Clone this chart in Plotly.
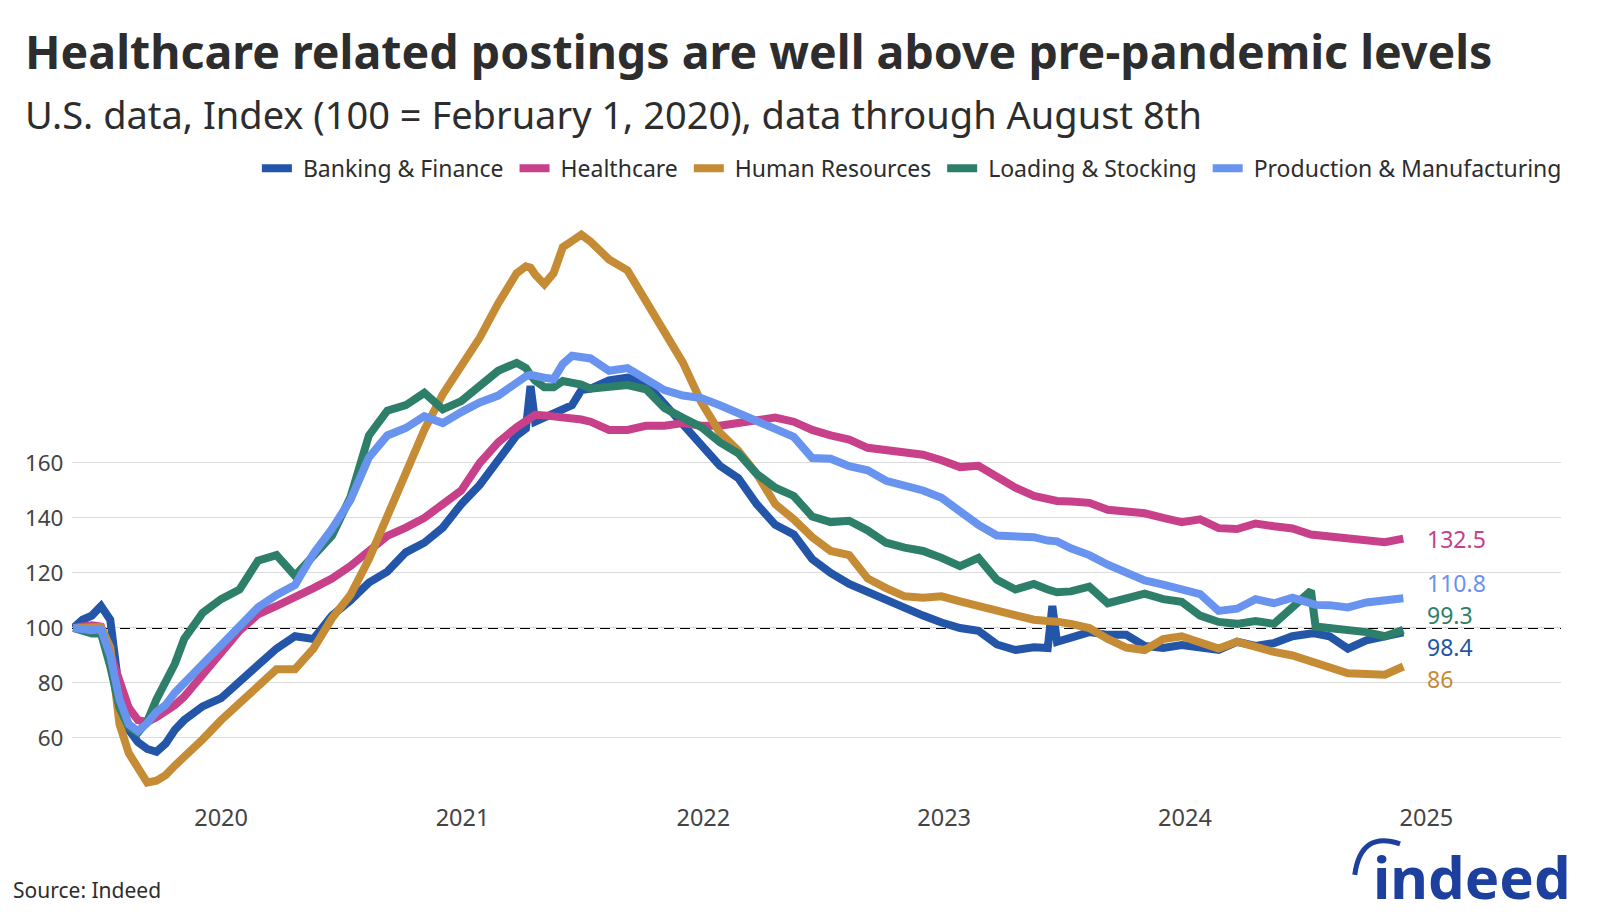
import pandas as pd
import plotly.graph_objects as go

# ---------------- data ----------------
start_date = "2019-05-22"
weeks = [0, 2, 4, 6, 8, 10, 12, 14, 16, 18, 20, 22, 24,
         28, 32, 36, 40, 44, 48, 52, 56, 60, 64, 68, 72, 76, 80, 84, 88, 92, 96, 98, 99, 100,
         102, 104, 106, 108, 110, 112, 116, 120, 124, 128, 132, 136, 140, 144, 148, 152, 156, 160, 164, 168,
         172, 176, 180, 184, 188, 192, 196, 200, 204, 208,
         211, 212, 213,
         216, 220, 224, 228, 232, 236, 240, 244, 248, 252, 256, 260, 264, 268,
         269,
         272, 276, 280, 284, 288]

banking = [100, 103, 104.5, 108, 103, 76, 63, 58.5, 56, 55, 58, 63, 66.5,
           71.5, 74.5, 80.5, 87, 92.5, 97, 96, 104.5, 110, 116.5, 120.5, 127.5, 131, 136.5, 145, 152, 160.5, 170, 172.5, 188, 175,
           176.5, 177.5, 179.5, 181, 186.5, 187, 190, 191, 189, 181.5, 174, 166.5, 159, 154.5, 145, 137.5, 134, 125, 120, 116,
           113, 110, 107, 104.5, 102, 100, 99, 94, 92, 93,
           92.7, 108, 95,
           96.5, 98.5, 97.5, 97.5, 93.5, 92.7, 93.8, 93, 92, 95, 93.5, 94.5, 97, 98,
           98,
           97, 92.5, 95.5, 97.3, 98.4]

healthcare = [100, 100.5, 101, 100.5, 90, 81, 71, 66.5, 65.8, 67.5, 69.5, 72, 75,
              83.5, 91, 99, 105, 108, 111, 114.5, 118, 122.5, 128, 133.5, 136.5, 140, 145, 150, 160, 167.5, 173, 175.5, 176.5, 177.5,
              177.3, 177, 176.5, 176, 175.8, 175, 172, 172, 173.5, 173.5, 174.5, 173.5, 173.5, 174.5, 175.5, 176.5, 175, 172, 170, 168.5,
              165.5, 164.5, 163.3, 163, 161, 158.5, 159, 155, 151, 148,
              147, 146.7, 146.2,
              146, 145.5, 143, 142.3, 141.7, 140, 138.5, 139.5, 136.3, 136, 138, 137, 136.2, 134,
              133.8,
              133.3, 133, 131.5, 131.2, 132.5]

human_resources = [100, 100.3, 100.7, 100.3, 93, 65, 54.5, 48.5, 43.8, 44.5, 46.5, 50, 53,
                   59.5, 66.5, 73, 79, 85, 85, 92.5, 103.5, 112, 125, 141, 157, 172, 185, 195, 205.5, 218, 229, 231.5, 231, 228.5,
                   225, 229, 238.5, 240.7, 243, 240.5, 234, 230, 219, 207.5, 196.5, 182, 171, 164.5, 156, 145, 139.5, 133, 128, 126.5,
                   118, 114.5, 111.5, 111, 111.5, 109.7, 108, 106, 104, 103,
                   102.5, 102.5, 102.3,
                   101.5, 100, 96, 92.9, 92, 96, 97, 95, 92.5, 95, 93, 91.3, 90, 88,
                   87.6,
                   85.7, 83.5, 83.3, 83, 86]

loading = [100, 98.7, 98, 98, 86, 71, 64, 62, 66, 74, 80, 87, 96,
           105.5, 110.5, 114, 124.5, 126.5, 119, 126.5, 133.5, 147.5, 170, 179, 181, 185.5, 179.5, 182.5, 188, 193.5, 196.4, 194.5, 192, 190,
           187.5, 187.5, 189.8, 189.3, 188.5, 187, 187.5, 188.3, 186.8, 180, 176.4, 173, 167.5, 163.5, 156, 151, 148, 140.5, 138.5, 139,
           135.5, 131, 129.2, 128, 125.5, 122.5, 125.5, 117.5, 114, 116,
           114, 113.5, 113,
           113.3, 115, 109, 110.5, 112.5, 110.5, 109.5, 104.5, 102.2, 101.5, 102.5, 101.5, 107.5, 113.5,
           100.5,
           100, 99, 98.5, 97, 99.3]

production = [100, 99.5, 99.2, 99.5, 90, 74, 65, 62.5, 65.5, 69.5, 72, 76.5, 80,
              86, 93.5, 100, 107.5, 112, 115.6, 127, 136, 146.5, 162, 170, 172.7, 177, 174.5, 178.5, 182, 184.5, 189.5, 191.5, 192, 191.5,
              191, 190.5, 196, 199, 198.8, 198, 193.5, 194.5, 190.5, 186.5, 184.5, 183.6, 181, 178, 175.5, 172.7, 169.5, 161.8, 161.5, 158.8,
              157.3, 153.5, 151.7, 150, 147.3, 142.3, 137.5, 133.6, 133.6, 133,
              131.8, 131.7, 131.5,
              129, 126.5, 123, 120, 117.3, 115.8, 114, 112.3, 106.2, 107, 110.5, 109, 111, 108.4,
              108.4,
              108.3, 107.5, 109.3, 109.8, 110.8]

series_names = ["Banking & Finance", "Healthcare", "Human Resources",
                "Loading & Stocking", "Production & Manufacturing"]
series_values = [banking, healthcare, human_resources, loading, production]

y_ticks = [60, 80, 100, 120, 140, 160]
x_tick_labels = ["2020", "2021", "2022", "2023", "2024", "2025"]

# ---------------- style ----------------
colors = {
    "Banking & Finance": "#2356a8",
    "Healthcare": "#c8408a",
    "Human Resources": "#c58b35",
    "Loading & Stocking": "#2e7f69",
    "Production & Manufacturing": "#6893ee",
}
label_yshift = {
    "Banking & Finance": -15,
    "Healthcare": 0,
    "Human Resources": -13,
    "Loading & Stocking": 15,
    "Production & Manufacturing": 15,
}
FONT = "Noto Sans"
TEXT = "#2d2d2d"
NB = "\u00a0"

start = pd.Timestamp(start_date)
dates = [start + pd.Timedelta(weeks=w) for w in weeks]

fig = go.Figure()
for name, vals in zip(series_names, series_values):
    fig.add_trace(go.Scatter(
        x=dates, y=vals, name=NB + name + NB, mode="lines",
        line=dict(color=colors[name], width=8),
        hovertemplate=name + ": %{y}<extra></extra>",
    ))

# end labels
for name, vals in zip(series_names, series_values):
    fig.add_annotation(
        x=dates[-1], y=vals[-1], xref="x", yref="y",
        text=f"{vals[-1]:g}", showarrow=False,
        xanchor="left", yanchor="middle", xshift=22, yshift=label_yshift[name],
        font=dict(family=FONT, size=23, color=colors[name]),
    )

# reference line at 100
fig.add_shape(type="line", xref="paper", x0=0, x1=1, yref="y", y0=100, y1=100,
              line=dict(color="black", width=2, dash="10px,6px"), layer="below")

tick_dates = [pd.Timestamp(f"{t}-01-01") for t in x_tick_labels]

fig.update_layout(
    width=1600, height=914, autosize=False,
    margin=dict(l=64, r=47, t=200, b=129),
    paper_bgcolor="white", plot_bgcolor="white",
    font=dict(family=FONT, color=TEXT),
    showlegend=True,
    legend=dict(
        orientation="h", xanchor="right", x=1.008, yanchor="middle", y=1.068,
        font=dict(family=FONT, size=23, color=TEXT), itemwidth=30,
        bgcolor="rgba(0,0,0,0)",
    ),
    xaxis=dict(
        type="date",
        range=[start - pd.Timedelta(days=2), start + pd.Timedelta(days=2255)],
        tickvals=tick_dates, ticktext=x_tick_labels,
        showgrid=False, zeroline=False, showline=False,
        ticks="outside", ticklen=4, tickcolor="rgba(0,0,0,0)",
        tickfont=dict(family=FONT, size=23.5, color="#444444"),
    ),
    yaxis=dict(
        range=[40, 252.7], tickvals=y_ticks,
        showgrid=True, gridcolor="#dcdcdc", gridwidth=1,
        zeroline=False, showline=False,
        ticks="outside", ticklen=3, tickcolor="rgba(0,0,0,0)",
        tickfont=dict(family=FONT, size=22.5, color="#444444"),
    ),
)

# title / subtitle / source
fig.add_annotation(
    xref="paper", yref="paper", x=-0.033, y=1.2684, xanchor="left", yanchor="middle",
    text="<b>Healthcare related postings are well above pre-pandemic levels</b>",
    showarrow=False, font=dict(family=FONT, size=46.5, color=TEXT),
)
fig.add_annotation(
    xref="paper", yref="paper", x=-0.033, y=1.1607, xanchor="left", yanchor="middle",
    text="U.S. data, Index (100 = February 1, 2020), data through August 8th",
    showarrow=False, font=dict(family=FONT, size=38, color=TEXT),
)
fig.add_annotation(
    xref="paper", yref="paper", x=-0.041, y=-0.1658, xanchor="left", yanchor="middle",
    text="Source: Indeed", showarrow=False, font=dict(family=FONT, size=21, color=TEXT),
)

# indeed logo
LOGO = "#1d3f9e"
fig.add_annotation(
    xref="paper", yref="paper", x=0.940, y=-0.142, xanchor="center", yanchor="middle",
    text="<b>indeed</b>", showarrow=False, font=dict(family=FONT, size=58, color=LOGO),
)
fig.add_shape(
    type="path", xref="paper", yref="paper",
    path="M 0.8615 -0.1400 Q 0.8655 -0.0640 0.8919 -0.0870",
    line=dict(color=LOGO, width=5),
)

fig.write_html("out.html")
